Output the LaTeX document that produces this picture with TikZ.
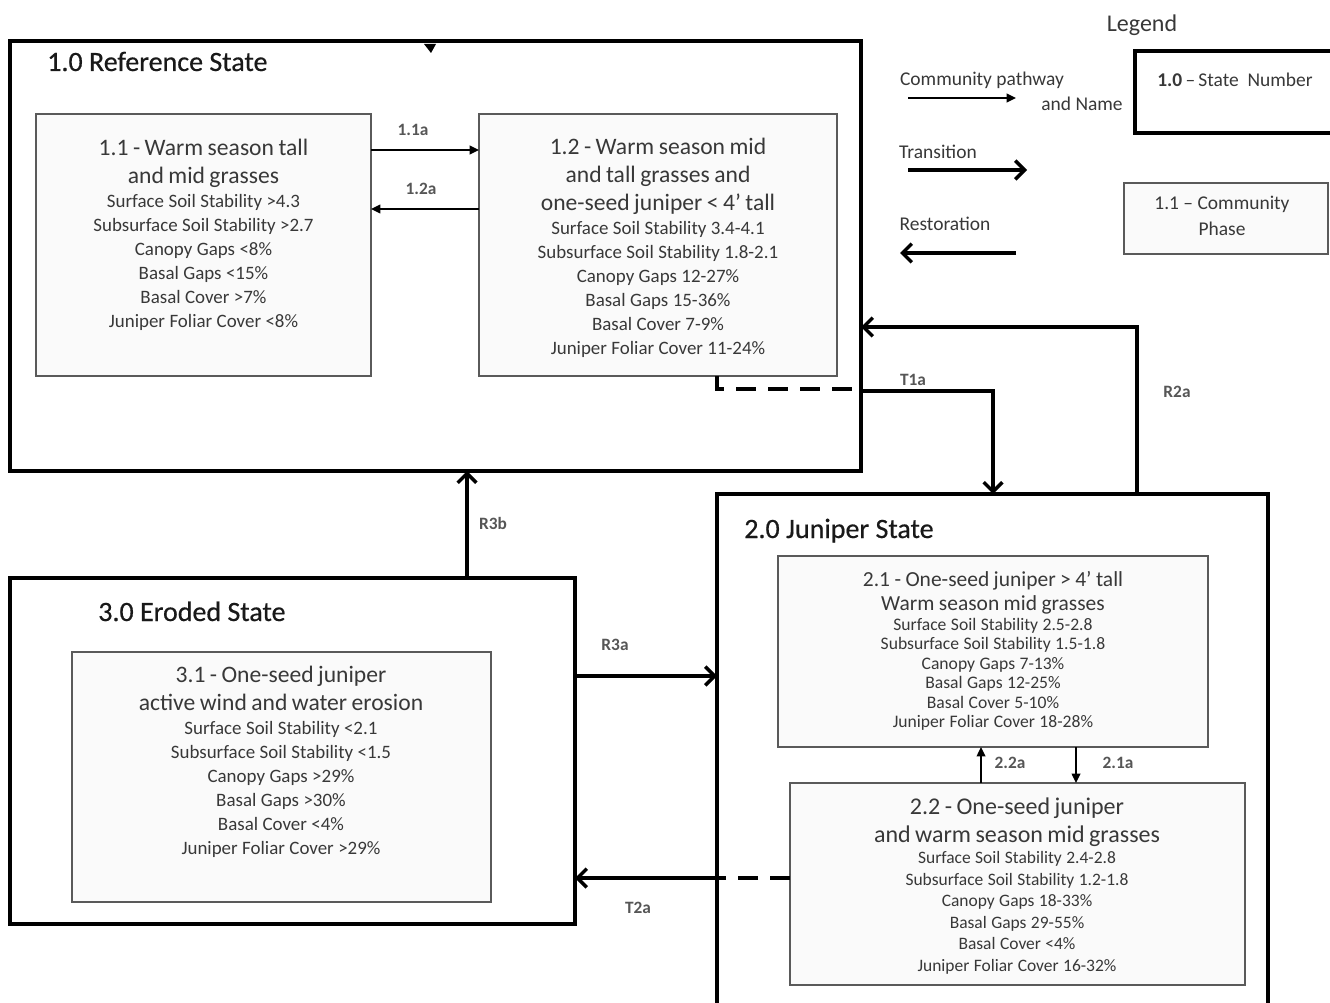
\documentclass[tikz,border=0pt]{standalone}
\usepackage{fontspec}
\setmainfont{Carlito}
\newfontfamily\tightfont[WordSpace=0.45]{Carlito}
\newfontfamily\titlefont[FakeBold=0.5]{Carlito}
\usetikzlibrary{arrows.meta,fit}
\definecolor{txt}{HTML}{383838}
\definecolor{phasefill}{HTML}{FAFAFA}
\definecolor{phaseline}{HTML}{5A5A5A}
\newcommand\ptitle{\fontsize{17.7}{21}\selectfont}
\newcommand\pstat{\fontsize{14.2}{18}\selectfont}
\begin{document}
\begin{tikzpicture}[x=0.75pt,y=-0.75pt,
  statebox/.style={draw=black,line width=3.6pt,inner sep=0pt,outer sep=0pt},
  phasebox/.style={draw=phaseline,fill=phasefill,line width=1.1pt,inner sep=0pt,outer sep=0pt},
  phasetext/.style={align=center,text width=330pt,text=txt,inner sep=0pt,anchor=north},
  statetitle/.style={font=\titlefont\fontsize{21}{24}\selectfont,text=black!90,inner sep=0pt,anchor=base west},
  lab/.style={font=\fontsize{13}{15}\selectfont\bfseries,text=txt!85,inner sep=0pt},
  legtext/.style={font=\fontsize{14.6}{17}\selectfont,text=txt,inner sep=0pt},
  trans/.style={line width=3pt,-{Straight Barb[length=7pt,width=14pt,line width=2.6pt]}},
  transdash/.style={line width=3pt,dash pattern=on 15pt off 9pt},
  comm/.style={line width=1.1pt,-{Triangle[length=7pt,width=6.5pt]}},
]
\path[use as bounding box,clip] (0,0) rectangle (1330,1002);
\fill[white] (0,0) rectangle (1330,1002);

% ---------- state boxes ----------
\node[statebox,fit={(10,41) (861,471)}] (s1) {};
\node[statebox,fit={(717,494) (1268,1030)}] (s2) {};
\node[statebox,fit={(10,578) (575,924)}] (s3) {};

\node[statetitle] (s1t) at (47,71) {1.0 Reference State};
\node[statetitle] (s2t) at (744,538) {2.0 Juniper State};
\node[statetitle] (s3t) at (98,621) {3.0 Eroded State};

% small mark on top edge of state 1.0
\fill[black] (424,44) -- (436,44) -- (431,53) -- cycle;

% ---------- phase boxes ----------
\node[phasebox,fit={(36,114) (371,376)}] (p11) {};
\node[phasebox,fit={(479,114) (837,376)}] (p12) {};
\node[phasebox,fit={(778,556) (1208,747)}] (p21) {};
\node[phasebox,fit={(790,783) (1245,985)}] (p22) {};
\node[phasebox,fit={(72,652) (491,902)}] (p31) {};

\node[phasetext] (p11t) at (203.5,138.5) {%
  \ptitle 1.1 - Warm season tall\\
  and mid grasses\\
  \pstat Surface Soil Stability >4.3\\
  Subsurface Soil Stability >2.7\\
  Canopy Gaps <8\%\\
  Basal Gaps <15\%\\
  Basal Cover >7\%\\
  Juniper Foliar Cover <8\%\par};

\node[phasetext] (p12t) at (658,137.5) {%
  \ptitle 1.2 - Warm season mid\\
  and tall grasses and\\
  one-seed juniper < 4’ tall\\
  \pstat Surface Soil Stability 3.4-4.1\\
  Subsurface Soil Stability 1.8-2.1\\
  Canopy Gaps 12-27\%\\
  Basal Gaps 15-36\%\\
  Basal Cover 7-9\%\\
  Juniper Foliar Cover 11-24\%\par};

\node[phasetext] (p21t) at (993,571.5) {%
  \fontsize{16.1}{18}\selectfont 2.1 - One-seed juniper > 4’ tall\\
  Warm season mid grasses\\
  \tightfont\fontsize{13.2}{14.6}\selectfont Surface Soil Stability 2.5-2.8\\
  Subsurface Soil Stability 1.5-1.8\\
  Canopy Gaps 7-13\%\\
  Basal Gaps 12-25\%\\
  Basal Cover 5-10\%\\
  Juniper Foliar Cover 18-28\%\par};

\node[phasetext] (p22t) at (1017,797.5) {%
  \fontsize{18}{21}\selectfont 2.2 - One-seed juniper\\
  and warm season mid grasses\\
  \tightfont\fontsize{13.1}{16.1}\selectfont Surface Soil Stability 2.4-2.8\\
  Subsurface Soil Stability 1.2-1.8\\
  Canopy Gaps 18-33\%\\
  Basal Gaps 29-55\%\\
  Basal Cover <4\%\\
  Juniper Foliar Cover 16-32\%\par};

\node[phasetext] (p31t) at (281,666) {%
  \ptitle 3.1 - One-seed juniper\\
  active wind and water erosion\\
  \pstat Surface Soil Stability <2.1\\
  Subsurface Soil Stability <1.5\\
  Canopy Gaps >29\%\\
  Basal Gaps >30\%\\
  Basal Cover <4\%\\
  Juniper Foliar Cover >29\%\par};

% ---------- community pathways ----------
\draw[comm] (p11.east |- 0,150) -- (p12.west |- 0,150);
\draw[comm] (p12.west |- 0,209) -- (p11.east |- 0,209);
\draw[comm] (p22.north -| 981,0) -- (p21.south -| 981,0);
\draw[comm] (p21.south -| 1076,0) -- (p22.north -| 1076,0);
\node[lab] (l11a) at (413,130) {1.1a};
\node[lab] (l12a) at (421,189) {1.2a};
\node[lab] (l22a) at (1010,763) {2.2a};
\node[lab] (l21a) at (1118,763) {2.1a};

% ---------- transitions / restorations ----------
\draw[transdash] (p12.south -| 717,0) |- (s1.east |- 0,389);
\draw[trans] (s1.east |- 0,391) -| (s2.north -| 993,0);
\node[lab] (lt1a) at (913,380) {T1a};

\draw[trans] (s2.north -| 1137,0) |- (s1.east |- 0,327);
\node[lab] (lr2a) at (1177,392) {R2a};

\draw[trans] (s3.north -| 467,0) -- (s1.south -| 467,0);
\node[lab] (lr3b) at (493,523) {R3b};

\draw[trans] (s3.east |- 0,676) -- (s2.west |- 0,676);
\node[lab] (lr3a) at (615,645) {R3a};

\draw[transdash] (p22.west |- 0,878) -- (s2.west |- 0,878);
\draw[trans] (s2.west |- 0,878) -- (s3.east |- 0,878);
\node[lab] (lt2a) at (638,908) {T2a};

% ---------- legend ----------
\node[legtext,font=\fontsize{18}{20}\selectfont] (leg) at (1142,25) {Legend};
\node[legtext] (lcp) at (982,80) {Community pathway};
\node[legtext] (lan) at (1082,104) {and Name};
\node[legtext] (ltr) at (938,152) {Transition};
\node[legtext] (lre) at (945,224) {Restoration};
\coordinate (lc1) at (908,98);  \coordinate (lc2) at (1016,98);
\coordinate (lt1) at (908,170); \coordinate (lt2) at (1027,170);
\coordinate (lr1) at (1016,253); \coordinate (lr2) at (900,253);
\draw[comm] (lc1) -- (lc2);
\draw[trans] (lt1) -- (lt2);
\draw[trans] (lr1) -- (lr2);

\node[statebox,fit={(1135,51) (1345,133)}] (lsb) {};
\node[legtext] (lsbt) at (1235,80) {\textbf{1.0}\,--\,State\ \ Number};
\node[phasebox,fit={(1124,183) (1328,254)}] (lpb) {};
\node[legtext,align=center,font=\fontsize{14.6}{19}\selectfont] (lpbt) at (1222,216) {1.1 -- Community\\Phase};
\end{tikzpicture}
\end{document}
